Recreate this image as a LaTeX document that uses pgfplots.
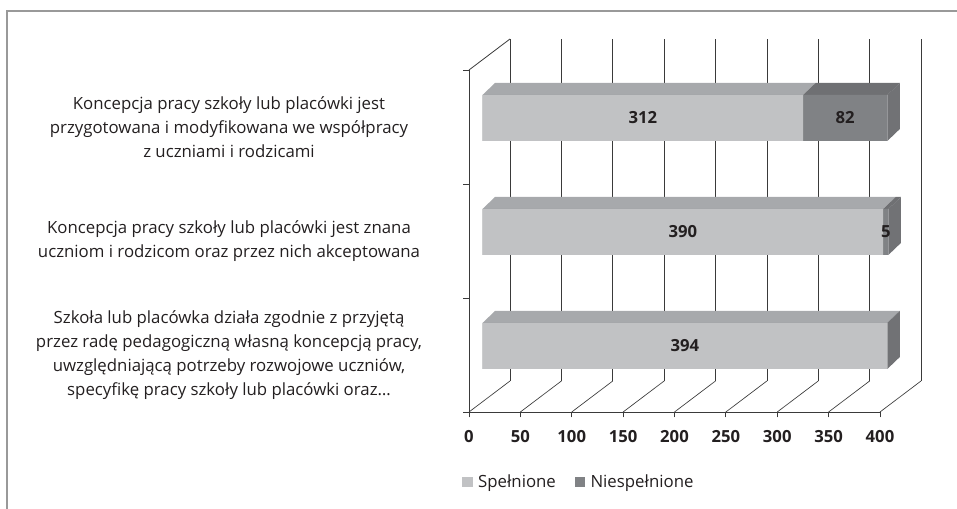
\documentclass[border=0pt]{standalone}
\usepackage{pgfplots}
\pgfplotsset{compat=1.18}
\usepackage{pgfplotstable}
\usepackage{fontspec}
\setmainfont{Open Sans}
\definecolor{spelF}{HTML}{C1C2C4}
\definecolor{spelT}{HTML}{A7A9AC}
\definecolor{niesF}{HTML}{808285}
\definecolor{niesT}{HTML}{6F7073}
\definecolor{sideC}{HTML}{717275}
\definecolor{lineC}{HTML}{3A3A3A}
\definecolor{txtC}{HTML}{231F20}
\tikzset{vlab/.style={font=\fontsize{12.5}{14}\selectfont\bfseries, text=txtC, inner sep=0pt}}

% y = category (1 = bottom), s = Spełnione, n = Niespełnione
\pgfplotstableread{
y s n
1 394 0
2 390 5
3 312 82
}\results

\begin{document}
\begin{tikzpicture}
\useasboundingbox (0,0) rectangle (717.75pt,381.75pt);
\draw[black!40, line width=1.2pt] (5.25pt,0) -- (5.25pt,373.5pt) -- (717.75pt,373.5pt);
\begin{axis}[
  at={(351.75pt,72.75pt)}, anchor=south west,
  scale only axis, width=308.25pt, height=256.5pt,
  xmin=0, xmax=400, ymin=0.5, ymax=3.5,
  clip=false,
  axis lines=left,
  axis line style={-, draw=lineC, line width=0.6pt},
  xtick={0,50,...,400}, xtick align=outside, major tick length=4pt,
  tick style={lineC, line width=0.6pt},
  /pgf/number format/assume math mode=true,
  xticklabel style={font=\fontsize{12.5}{14}\selectfont\bfseries, text=txtC, yshift=-6pt},
  ytick={1,2,3},
  y tick style={draw=none},
  yticklabels={
    {Szkoła lub placówka działa zgodnie z przyjętą\\przez radę pedagogiczną własną koncepcją pracy,\\uwzględniającą potrzeby rozwojowe uczniów,\\specyfikę pracy szkoły lub placówki oraz\ldots},
    {Koncepcja pracy szkoły lub placówki jest znana\\uczniom i rodzicom oraz przez nich akceptowana},
    {Koncepcja pracy szkoły lub placówki jest\\przygotowana i modyfikowana we współpracy\\z uczniami i rodzicami}},
  yticklabel style={align=center, anchor=center, xshift=-178pt, text=txtC,
    font=\fontsize{12.6}{18}\selectfont},
  legend image code/.code={\fill[#1] (0pt,-3.5pt) rectangle (8pt,4pt);},
  legend style={draw=none, at={(0.268,-0.205)}, anchor=center, legend columns=2,
    font=\fontsize{12.6}{14}\selectfont, text=txtC,
    /tikz/every odd column/.append style={column sep=2pt},
    /tikz/every even column/.append style={column sep=12pt}},
]
% back wall and floor
\pgfplotsinvokeforeach{0,50,100,150,200,250,300,350,400}{
  \draw[lineC, line width=0.5pt] ([shift={(30.75pt,23.25pt)}]axis cs:#1,0.5) -- ([shift={(30.75pt,23.25pt)}]axis cs:#1,3.5);
  \draw[lineC, line width=0.5pt] (axis cs:#1,0.5) -- ++(30.75pt,23.25pt);
}
\draw[lineC, line width=0.6pt] (axis cs:0,3.5) -- ++(30.75pt,23.25pt);
\draw[lineC, line width=0.6pt] (axis cs:0,0.5) -- (axis cs:0,3.5);
\pgfplotsinvokeforeach{0.5,1.5,2.5,3.5}{
  \draw[lineC, line width=0.6pt] (axis cs:0,#1) -- ++(-4.5pt,0pt);
}
% top and side faces of the bars
\pgfplotsinvokeforeach{0,1,2}{
  \pgfplotstablegetelem{#1}{y}\of\results \let\vY\pgfplotsretval
  \pgfplotstablegetelem{#1}{s}\of\results \let\vS\pgfplotsretval
  \pgfplotstablegetelem{#1}{n}\of\results \let\vN\pgfplotsretval
  \pgfmathsetmacro\vE{\vS+\vN}
  \edef\faces{%
    \noexpand\fill[spelT] ([shift={(10.125pt,24pt)}]axis cs:0,\vY) -- ([shift={(10.125pt,24pt)}]axis cs:\vS,\vY) -- ++(9.375pt,9pt) -- ([shift={(19.5pt,33pt)}]axis cs:0,\vY) -- cycle;
    \noexpand\fill[niesT] ([shift={(10.125pt,24pt)}]axis cs:\vS,\vY) -- ([shift={(10.125pt,24pt)}]axis cs:\vE,\vY) -- ++(9.375pt,9pt) -- ([shift={(19.5pt,33pt)}]axis cs:\vS,\vY) -- cycle;
    \noexpand\fill[sideC] ([shift={(10.125pt,-10.5pt)}]axis cs:\vE,\vY) -- ++(9.375pt,9pt) -- ++(0pt,34.5pt) -- ([shift={(10.125pt,24pt)}]axis cs:\vE,\vY) -- cycle;
  }\faces
}
% front faces
\addplot[xbar, bar width=34.5pt, bar shift=0pt, fill=niesF, draw=none, xshift=10.125pt, yshift=6.75pt, forget plot]
  table[x expr=\thisrow{s}+\thisrow{n}, y=y]{\results};
\addplot[xbar, bar width=34.5pt, bar shift=0pt, fill=spelF, draw=none, xshift=10.125pt, yshift=6.75pt, forget plot]
  table[x=s, y=y]{\results};
% value labels
\pgfplotsinvokeforeach{0,1,2}{
  \pgfplotstablegetelem{#1}{y}\of\results \let\vY\pgfplotsretval
  \pgfplotstablegetelem{#1}{s}\of\results \let\vS\pgfplotsretval
  \pgfplotstablegetelem{#1}{n}\of\results \let\vN\pgfplotsretval
  \pgfmathsetmacro\vA{\vS/2}
  \pgfmathsetmacro\vB{\vS+\vN/2}
  \edef\labs{%
    \noexpand\node[vlab] at ([shift={(10.125pt,6.75pt)}]axis cs:\vA,\vY) {\vS};
    \ifdim\vN pt>0pt
    \noexpand\node[vlab] at ([shift={(10.125pt,6.75pt)}]axis cs:\vB,\vY) {\vN};
    \fi
  }\labs
}
\addlegendimage{fill=spelF, draw=none}
\addlegendentry{Spełnione}
\addlegendimage{fill=niesF, draw=none}
\addlegendentry{Niespełnione}
\end{axis}
\end{tikzpicture}
\end{document}
